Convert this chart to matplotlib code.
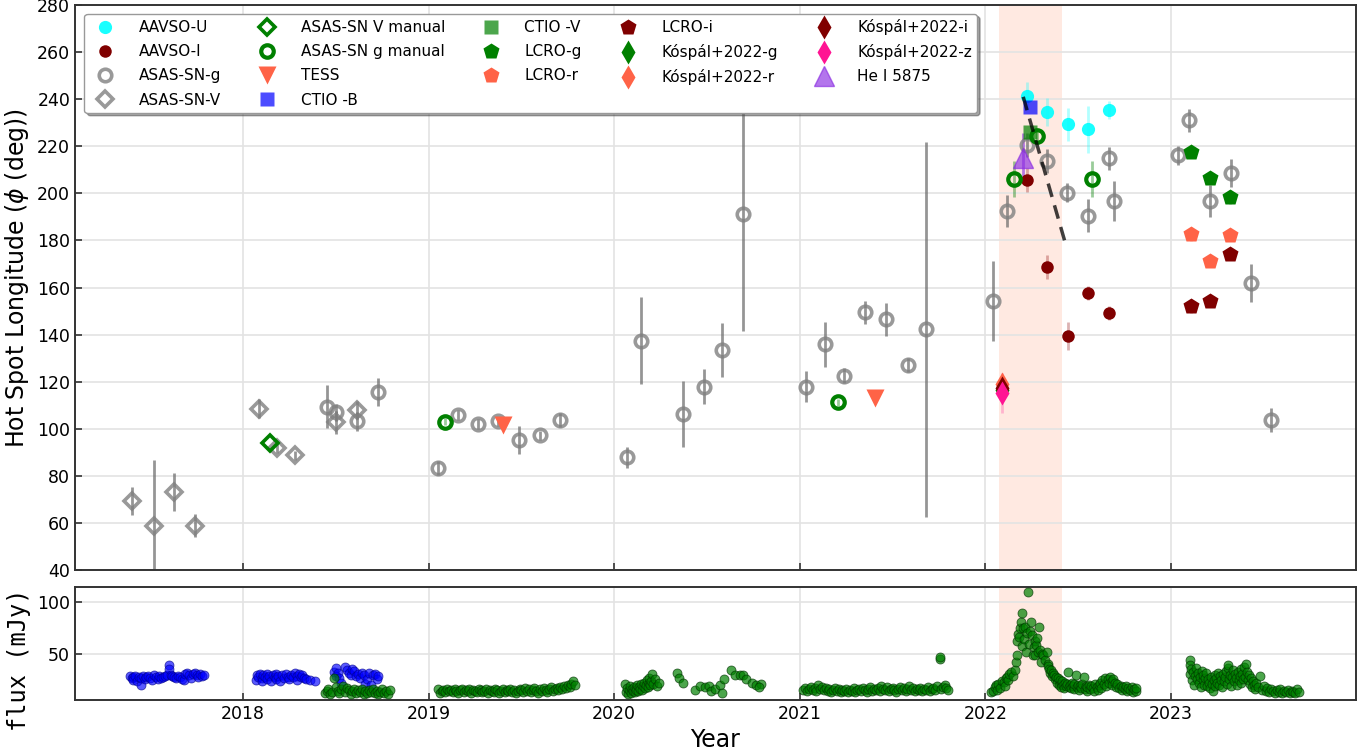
import matplotlib
matplotlib.use("Agg")
import matplotlib.pyplot as plt
import numpy as np

plt.rcParams['font.family'] = ['DejaVu Sans']

# ---------------- data (top panel) ----------------
aavso_u_t = [2022.222, 2022.333, 2022.444, 2022.554, 2022.668]
aavso_u_y = [241.5, 234.7, 229.3, 227.2, 235.4]
aavso_u_e = [6, 6, 7, 10, 4]

aavso_i_t = [2022.226, 2022.333, 2022.444, 2022.551, 2022.668]
aavso_i_y = [205.7, 168.6, 139.3, 157.5, 149.3]
aavso_i_e = [5, 5, 6, 3, 3]

asas_g_t = [2018.451, 2018.499, 2018.612, 2018.726, 2019.049, 2019.160, 2019.268,
            2019.376, 2019.489, 2019.600, 2019.708, 2020.067, 2020.144, 2020.372,
            2020.484, 2020.582, 2020.692, 2021.033, 2021.134, 2021.238, 2021.353,
            2021.464, 2021.581, 2021.678, 2022.039, 2022.115, 2022.226, 2022.333,
            2022.441, 2022.554, 2022.664, 2022.693, 2023.036, 2023.099, 2023.210,
            2023.322, 2023.433, 2023.539]
asas_g_y = [109.4, 107.0, 103.2, 115.6, 83.2, 105.8, 102.1, 103.2, 95.1, 97.2, 103.7,
            87.9, 137.3, 106.1, 117.9, 133.4, 191.1, 117.9, 135.9, 122.5, 149.4, 146.5,
            126.9, 142.2, 154.4, 192.5, 220.5, 213.7, 200.3, 190.4, 214.9, 196.7, 216.1,
            231.0, 196.7, 208.8, 161.8, 103.7]
asas_g_e = [9, 3.5, 4, 6, 3, 2, 2, 2, 6, 2, 3, 4.5, 18.5, 14, 7.5, 11.5, 49.5, 6.5, 9.6,
            3.2, 5, 7, 3, 79.5, 17, 7, 5, 5, 4, 7, 5, 8.5, 4, 5, 6.7, 6, 8, 5]

asas_v_t = [2017.403, 2017.520, 2017.631, 2017.741, 2018.085, 2018.182, 2018.280,
            2018.499, 2018.612]
asas_v_y = [69.4, 58.9, 73.1, 58.9, 108.5, 91.7, 88.7, 102.7, 108.0]
asas_v_e = [6, 28, 8, 5, 4, 2, 2, 5, 4]

vman_t = [2018.145]
vman_y = [94.0]

gman_t = [2019.088, 2021.207, 2022.155, 2022.277, 2022.575]
gman_y = [103.0, 111.3, 206.1, 224.4, 206.1]
gman_e = [1.5, 1.5, 7.5, 2, 7.5]

tess_t = [2019.399, 2021.405]
tess_y = [101.6, 113.2]

ctio_b_t = [2022.243]
ctio_b_y = [236.5]
ctio_v_t = [2022.243]
ctio_v_y = [226.2]

lcro_t = [2023.106, 2023.210, 2023.318]
lcro_g_y = [217.7, 206.4, 198.6]
lcro_r_y = [182.7, 171.2, 182.2]
lcro_i_y = [152.1, 154.4, 174.1]

kospal_t = [2022.089]
kospal_g_y = [116.5]
kospal_r_y = [119.0]
kospal_i_y = [117.5]
kospal_z_y = [115.2]
kospal_z_e = [8.5]

hei_t = [2022.201]
hei_y = [215.1]
hei_e = [10.6]

trend_t = [2022.204, 2022.434]
trend_y = [241.0, 178.0]

shade_t = [2022.073, 2022.413]

# ---------------- data (bottom panel: flux, mJy) ----------------
blue17 = [(2017.39, 28), (2017.40, 26), (2017.41, 27), (2017.41, 24), (2017.42, 28),
          (2017.43, 23), (2017.44, 27), (2017.45, 20), (2017.45, 26), (2017.46, 28),
          (2017.47, 25), (2017.48, 27), (2017.49, 28), (2017.50, 26), (2017.51, 24),
          (2017.52, 29), (2017.53, 27), (2017.54, 25), (2017.55, 28), (2017.56, 26),
          (2017.57, 27), (2017.58, 28), (2017.59, 29), (2017.60, 39), (2017.60, 35),
          (2017.61, 29), (2017.62, 28), (2017.63, 27), (2017.64, 26), (2017.65, 28),
          (2017.66, 27), (2017.67, 25), (2017.68, 24), (2017.69, 30), (2017.70, 31),
          (2017.71, 29), (2017.72, 26), (2017.73, 30), (2017.74, 31), (2017.75, 29),
          (2017.76, 27), (2017.77, 30), (2017.78, 28), (2017.79, 29)]
blue18a = [(2018.07, 24), (2018.075, 29), (2018.08, 27), (2018.09, 30), (2018.10, 26),
           (2018.10, 23), (2018.11, 29), (2018.12, 27), (2018.13, 30), (2018.13, 25),
           (2018.14, 28), (2018.15, 23), (2018.16, 29), (2018.17, 27), (2018.18, 30),
           (2018.18, 25), (2018.19, 28), (2018.20, 23), (2018.21, 29), (2018.22, 26),
           (2018.23, 30), (2018.24, 27), (2018.25, 25), (2018.26, 29), (2018.27, 27),
           (2018.28, 31), (2018.29, 28), (2018.29, 24), (2018.30, 30), (2018.31, 27),
           (2018.32, 29), (2018.33, 26), (2018.34, 25), (2018.36, 24), (2018.39, 23)]
blue18b = [(2018.49, 32), (2018.50, 36), (2018.50, 28), (2018.51, 31), (2018.52, 26),
           (2018.53, 22), (2018.55, 37), (2018.56, 34), (2018.57, 31), (2018.58, 29),
           (2018.59, 35), (2018.60, 33), (2018.61, 28), (2018.62, 30), (2018.63, 26),
           (2018.64, 31), (2018.65, 29), (2018.66, 21), (2018.67, 25), (2018.68, 31),
           (2018.69, 20), (2018.70, 29), (2018.71, 30), (2018.72, 25), (2018.73, 28)]

green18 = [(2018.44, 12), (2018.45, 14), (2018.46, 16), (2018.47, 11), (2018.48, 13),
           (2018.49, 26), (2018.50, 18), (2018.51, 14), (2018.52, 12), (2018.53, 16),
           (2018.54, 19), (2018.55, 13), (2018.56, 17), (2018.57, 15), (2018.58, 11),
           (2018.59, 14), (2018.60, 16), (2018.61, 12), (2018.62, 15), (2018.63, 13),
           (2018.64, 16), (2018.65, 11), (2018.66, 14), (2018.67, 12), (2018.68, 15),
           (2018.69, 13), (2018.70, 16), (2018.71, 12), (2018.72, 14), (2018.73, 11),
           (2018.74, 13), (2018.75, 16), (2018.76, 12), (2018.77, 14), (2018.78, 11),
           (2018.79, 15)]
green19 = [(2019.05, 16), (2019.06, 12), (2019.07, 14), (2019.08, 15), (2019.09, 13),
           (2019.10, 16), (2019.11, 14), (2019.12, 15), (2019.13, 13), (2019.14, 16),
           (2019.15, 14), (2019.16, 12), (2019.17, 15), (2019.18, 16), (2019.19, 13),
           (2019.20, 15), (2019.21, 14), (2019.22, 16), (2019.23, 12), (2019.24, 15),
           (2019.25, 14), (2019.26, 13), (2019.27, 16), (2019.28, 15), (2019.29, 13),
           (2019.30, 14), (2019.31, 16), (2019.32, 12), (2019.33, 15), (2019.34, 14),
           (2019.35, 13), (2019.36, 16), (2019.37, 15), (2019.38, 12), (2019.39, 14),
           (2019.40, 16), (2019.41, 13), (2019.42, 15), (2019.43, 14), (2019.44, 16),
           (2019.45, 13), (2019.46, 15), (2019.47, 12), (2019.48, 14), (2019.49, 16),
           (2019.50, 15), (2019.51, 13), (2019.52, 17), (2019.53, 14), (2019.54, 16),
           (2019.55, 13), (2019.56, 15), (2019.57, 17), (2019.58, 14), (2019.59, 12),
           (2019.60, 16), (2019.61, 14), (2019.62, 17), (2019.63, 15), (2019.64, 13),
           (2019.65, 16), (2019.66, 18), (2019.67, 14), (2019.68, 16), (2019.69, 17),
           (2019.70, 15), (2019.71, 18), (2019.72, 16), (2019.73, 19), (2019.74, 17),
           (2019.75, 20), (2019.76, 18), (2019.77, 21), (2019.78, 23), (2019.79, 20)]
green20a = [(2020.06, 21), (2020.065, 13), (2020.07, 17), (2020.075, 11), (2020.08, 15),
            (2020.085, 19), (2020.09, 12), (2020.095, 16), (2020.10, 14), (2020.105, 18),
            (2020.11, 13), (2020.115, 17), (2020.12, 15), (2020.125, 20), (2020.13, 14),
            (2020.135, 18), (2020.14, 16), (2020.145, 21), (2020.15, 15), (2020.155, 19),
            (2020.16, 22), (2020.165, 17), (2020.17, 20), (2020.175, 24), (2020.18, 18),
            (2020.185, 22), (2020.19, 26), (2020.195, 20), (2020.20, 23), (2020.205, 30),
            (2020.21, 21), (2020.22, 25), (2020.23, 19), (2020.24, 22)]
green20b = [(2020.34, 31.4), (2020.35, 26), (2020.37, 22), (2020.435, 14.4),
            (2020.46, 18.6), (2020.49, 17.6), (2020.51, 18.6), (2020.52, 13.4),
            (2020.545, 16), (2020.57, 19.3), (2020.58, 12.1), (2020.59, 25.2),
            (2020.63, 34), (2020.65, 29.7), (2020.68, 29.7), (2020.695, 29.7),
            (2020.71, 25.2), (2020.745, 21.9), (2020.765, 19.9), (2020.79, 20.9),
            (2020.78, 17.6)]
green21 = [(2021.02, 15), (2021.03, 17), (2021.04, 14), (2021.05, 16), (2021.06, 18),
           (2021.07, 15), (2021.08, 17), (2021.09, 14), (2021.10, 20), (2021.11, 16),
           (2021.12, 18), (2021.13, 15), (2021.14, 17), (2021.15, 14), (2021.16, 16),
           (2021.17, 13), (2021.18, 15), (2021.19, 17), (2021.20, 14), (2021.21, 16),
           (2021.22, 13), (2021.23, 15), (2021.24, 14), (2021.25, 16), (2021.26, 13),
           (2021.27, 15), (2021.28, 14), (2021.29, 17), (2021.30, 13), (2021.31, 15),
           (2021.32, 16), (2021.33, 14), (2021.34, 17), (2021.35, 15), (2021.36, 13),
           (2021.37, 16), (2021.38, 18), (2021.39, 14), (2021.40, 16), (2021.41, 15),
           (2021.42, 17), (2021.43, 14), (2021.44, 19), (2021.45, 16), (2021.46, 15),
           (2021.47, 18), (2021.48, 14), (2021.49, 16), (2021.50, 17), (2021.51, 15),
           (2021.52, 13), (2021.53, 16), (2021.54, 18), (2021.55, 15), (2021.56, 17),
           (2021.57, 14), (2021.58, 16), (2021.59, 19), (2021.60, 15), (2021.61, 17),
           (2021.62, 14), (2021.63, 16), (2021.64, 15), (2021.65, 17), (2021.66, 14),
           (2021.67, 16), (2021.68, 15), (2021.69, 18), (2021.70, 14), (2021.71, 16),
           (2021.72, 17), (2021.73, 15), (2021.74, 19), (2021.755, 45), (2021.755, 47),
           (2021.76, 16), (2021.77, 18), (2021.78, 20), (2021.79, 17), (2021.80, 15)]
flare22 = [(2022.03, 12.7), (2022.04, 14), (2022.05, 18), (2022.06, 19.3), (2022.065, 15),
           (2022.07, 21), (2022.08, 17), (2022.09, 23), (2022.10, 22.5), (2022.105, 19),
           (2022.11, 26), (2022.115, 27.5), (2022.12, 24), (2022.13, 30), (2022.14, 32.4),
           (2022.15, 28), (2022.16, 34), (2022.165, 42), (2022.17, 48.7), (2022.17, 62),
           (2022.175, 69), (2022.18, 66), (2022.185, 75), (2022.19, 81.4), (2022.195, 89.5),
           (2022.20, 58), (2022.205, 74.8), (2022.21, 64), (2022.215, 76.5), (2022.22, 52),
           (2022.225, 70), (2022.23, 110), (2022.235, 60), (2022.24, 72), (2022.245, 81.4),
           (2022.25, 68.3), (2022.255, 49), (2022.26, 56.9), (2022.265, 62), (2022.27, 48.7),
           (2022.275, 58.5), (2022.28, 65), (2022.285, 52), (2022.29, 76.5), (2022.295, 53.6),
           (2022.30, 42.2), (2022.305, 50), (2022.31, 48.7), (2022.32, 44), (2022.33, 52),
           (2022.335, 40), (2022.34, 38), (2022.345, 35.6), (2022.35, 31), (2022.355, 34),
           (2022.36, 28), (2022.365, 31), (2022.37, 29), (2022.375, 25), (2022.38, 27),
           (2022.385, 22), (2022.39, 26), (2022.395, 20), (2022.40, 24.2), (2022.405, 21)]
green22b = [(2022.41, 18), (2022.415, 23), (2022.42, 20), (2022.425, 17), (2022.43, 22),
            (2022.435, 19), (2022.44, 21), (2022.445, 32.4), (2022.45, 18), (2022.455, 20),
            (2022.46, 17), (2022.465, 22), (2022.47, 19), (2022.475, 16), (2022.48, 21),
            (2022.49, 29), (2022.495, 18), (2022.50, 20), (2022.505, 15), (2022.51, 19),
            (2022.515, 17), (2022.52, 21), (2022.53, 27.5), (2022.535, 16), (2022.54, 19),
            (2022.545, 14), (2022.55, 18), (2022.56, 20), (2022.565, 16), (2022.57, 19),
            (2022.58, 17), (2022.585, 14), (2022.59, 21), (2022.60, 18), (2022.605, 15),
            (2022.61, 20), (2022.62, 22), (2022.625, 17), (2022.63, 24), (2022.64, 21),
            (2022.645, 26), (2022.65, 19), (2022.66, 25), (2022.665, 22), (2022.67, 27.5),
            (2022.68, 23), (2022.685, 20), (2022.69, 25), (2022.70, 22), (2022.705, 18),
            (2022.71, 21), (2022.72, 17), (2022.73, 19), (2022.735, 15), (2022.74, 18),
            (2022.75, 16), (2022.76, 19), (2022.765, 14), (2022.77, 17), (2022.78, 15),
            (2022.79, 18), (2022.795, 13), (2022.80, 16), (2022.81, 14), (2022.81, 17)]
green23 = [(2023.10, 43.8), (2023.10, 38.9), (2023.105, 30), (2023.11, 35), (2023.115, 24),
           (2023.12, 32), (2023.125, 20), (2023.13, 28), (2023.135, 36), (2023.14, 25),
           (2023.145, 31), (2023.15, 22), (2023.155, 27), (2023.16, 18), (2023.165, 33),
           (2023.17, 24), (2023.175, 29), (2023.18, 20), (2023.185, 26), (2023.19, 31),
           (2023.195, 19), (2023.20, 25), (2023.205, 22), (2023.21, 17), (2023.215, 27),
           (2023.22, 21), (2023.225, 14), (2023.23, 24), (2023.235, 29), (2023.24, 19),
           (2023.245, 26), (2023.25, 22), (2023.255, 31), (2023.26, 20), (2023.265, 28),
           (2023.27, 24), (2023.275, 18), (2023.28, 30), (2023.285, 23), (2023.29, 27),
           (2023.295, 33), (2023.30, 21), (2023.305, 36), (2023.31, 38.9), (2023.315, 25),
           (2023.32, 29), (2023.325, 19), (2023.33, 27), (2023.335, 34), (2023.34, 23),
           (2023.345, 30), (2023.35, 26), (2023.355, 20), (2023.36, 32), (2023.365, 24),
           (2023.37, 28), (2023.375, 35), (2023.38, 22), (2023.385, 30), (2023.39, 25),
           (2023.395, 37), (2023.40, 27), (2023.405, 40.5), (2023.41, 32), (2023.415, 24),
           (2023.42, 29), (2023.425, 21), (2023.43, 26), (2023.435, 18), (2023.44, 23),
           (2023.45, 20), (2023.455, 16), (2023.46, 22), (2023.47, 18), (2023.48, 28),
           (2023.49, 15), (2023.50, 19), (2023.51, 14), (2023.52, 17), (2023.53, 13),
           (2023.54, 16), (2023.55, 14), (2023.56, 12), (2023.57, 15), (2023.58, 13),
           (2023.59, 16), (2023.60, 12), (2023.61, 14), (2023.62, 13), (2023.63, 15),
           (2023.64, 12), (2023.65, 14), (2023.66, 13), (2023.67, 12), (2023.68, 16),
           (2023.69, 13)]

blue_segments = [blue17, blue18a, blue18b]
green_segments = [green18, green19, green20a, green20b, green21, flare22, green22b, green23]

# ---------------- figure ----------------
fig = plt.figure(figsize=(13.69, 7.5), dpi=100)
ax = fig.add_axes([0.0548, 0.24, 0.9357, 0.7533])
axb = fig.add_axes([0.0548, 0.0667, 0.9357, 0.1506], sharex=ax)

spine_col = '#333333'
for a in (ax, axb):
    for s in a.spines.values():
        s.set_color(spine_col)
        s.set_linewidth(1.4)
    a.grid(True, color='#e3e3e3', linewidth=1.2)
    a.set_axisbelow(True)
    a.tick_params(direction='in', length=5, width=1.2, labelsize=12.5,
                  top=False, right=False, color=spine_col)
    a.axvspan(shade_t[0], shade_t[1], color='coral', alpha=0.17, lw=0, zorder=0)

ax.tick_params(labelbottom=False)

def eb(t, y, e, col, alpha, lw=2):
    ax.errorbar(t, y, yerr=e, fmt='none', ecolor=col, alpha=alpha, elinewidth=lw,
                capsize=0, zorder=2)

# error bars
eb(aavso_u_t, aavso_u_y, aavso_u_e, 'cyan', 0.3)
eb(aavso_i_t, aavso_i_y, aavso_i_e, 'darkred', 0.3)
eb(asas_g_t, asas_g_y, asas_g_e, 'dimgray', 0.7)
eb(asas_v_t, asas_v_y, asas_v_e, 'dimgray', 0.7)
eb(gman_t, gman_y, gman_e, 'green', 0.4)
eb(lcro_t, lcro_g_y, [1, 1, 3], 'green', 0.3)
eb(lcro_t, lcro_r_y, [3, 1, 1], 'tomato', 0.3)
eb(lcro_t, lcro_i_y, [3, 1, 1], 'darkred', 0.3)
eb(kospal_t, kospal_z_y, kospal_z_e, 'deeppink', 0.25)
eb(hei_t, hei_y, hei_e, 'blueviolet', 0.6)

# markers
ax.plot(aavso_u_t, aavso_u_y, 'o', color='cyan', ms=9.5, mec='none', alpha=0.9,
        label='AAVSO-U', zorder=4)
ax.plot(aavso_i_t, aavso_i_y, 'o', color='#800000', ms=9, mec='none',
        label='AAVSO-I', zorder=4)
ax.plot(asas_g_t, asas_g_y, 'o', mfc='none', mec='gray', mew=2.6, ms=9, alpha=0.8,
        label='ASAS-SN-g', zorder=3)
ax.plot(asas_v_t, asas_v_y, 'D', mfc='none', mec='gray', mew=2.6, ms=8, alpha=0.8,
        label='ASAS-SN-V', zorder=3)
ax.plot(vman_t, vman_y, 'D', mfc='none', mec='green', mew=2.6, ms=8,
        label='ASAS-SN V manual', zorder=4)
ax.plot(gman_t, gman_y, 'o', mfc='none', mec='green', mew=3, ms=9,
        label='ASAS-SN g manual', zorder=4)
ax.plot(tess_t, tess_y, 'v', color='tomato', ms=13, mec='none',
        label='TESS', zorder=4)
ax.plot(ctio_b_t, ctio_b_y, 's', color='blue', alpha=0.7, ms=10, mec='none',
        label='CTIO -B', zorder=5)
ax.plot(ctio_v_t, ctio_v_y, 's', color='green', alpha=0.7, ms=10, mec='none',
        label='CTIO -V', zorder=5)
ax.plot(lcro_t, lcro_g_y, 'p', color='green', ms=12, mec='none',
        label='LCRO-g', zorder=4)
ax.plot(lcro_t, lcro_r_y, 'p', color='tomato', ms=12, mec='none',
        label='LCRO-r', zorder=4)
ax.plot(lcro_t, lcro_i_y, 'p', color='#800000', ms=12, mec='none',
        label='LCRO-i', zorder=4)
ax.plot(kospal_t, kospal_g_y, 'd', color='green', ms=12, mec='none',
        label='Kóspál+2022-g', zorder=5)
ax.plot(kospal_t, kospal_r_y, 'd', color='tomato', ms=12, mec='none',
        label='Kóspál+2022-r', zorder=5)
ax.plot(kospal_t, kospal_i_y, 'd', color='#800000', ms=12, mec='none',
        label='Kóspál+2022-i', zorder=5)
ax.plot(kospal_t, kospal_z_y, 'd', color='deeppink', ms=12, mec='none',
        label='Kóspál+2022-z', zorder=6)
ax.plot(hei_t, hei_y, '^', color='blueviolet', alpha=0.65, ms=14, mec='blueviolet',
        label='He I 5875', zorder=6)

ax.plot(trend_t, trend_y, '--', color='black', alpha=0.75, lw=2.5, dashes=(4, 2.5),
        zorder=7)

ax.set_ylim(40, 280)
ax.set_yticks(np.arange(40, 281, 20))
ax.set_xlim(2017.095, 2023.997)
ax.set_ylabel('Hot Spot Longitude ($\\phi$ (deg))', fontsize=17)

leg = ax.legend(loc='upper left', ncol=5, fontsize=11, shadow=True, numpoints=1,
                bbox_to_anchor=(0.005, 0.99), borderaxespad=0.2, framealpha=1,
                edgecolor='#999999', columnspacing=2.0, handletextpad=1.2,
                labelspacing=0.6, borderpad=0.35)
leg.set_zorder(20)

# bottom panel
for seg in blue_segments:
    t = [p[0] for p in seg]
    f = [p[1] for p in seg]
    axb.scatter(t, f, s=42, c='blue', alpha=0.65, edgecolors='#00008b', linewidths=0.6,
                zorder=3)
for seg in green_segments:
    t = [p[0] for p in seg]
    f = [p[1] for p in seg]
    axb.scatter(t, f, s=42, c='green', alpha=0.7, edgecolors='#003300', linewidths=0.6,
                zorder=3)

axb.set_ylim(5, 115)
axb.set_yticks([50, 100])
axb.set_xticks([2018, 2019, 2020, 2021, 2022, 2023])
axb.set_xticklabels(['2018', '2019', '2020', '2021', '2022', '2023'])
axb.set_ylabel('flux (mJy)', fontsize=17, family='DejaVu Sans Mono')
axb.set_xlabel('Year', fontsize=17)
ax.yaxis.set_label_coords(-0.034, 0.516)
axb.yaxis.set_label_coords(-0.034, 0.36)

fig.savefig('out.png', dpi=100)
